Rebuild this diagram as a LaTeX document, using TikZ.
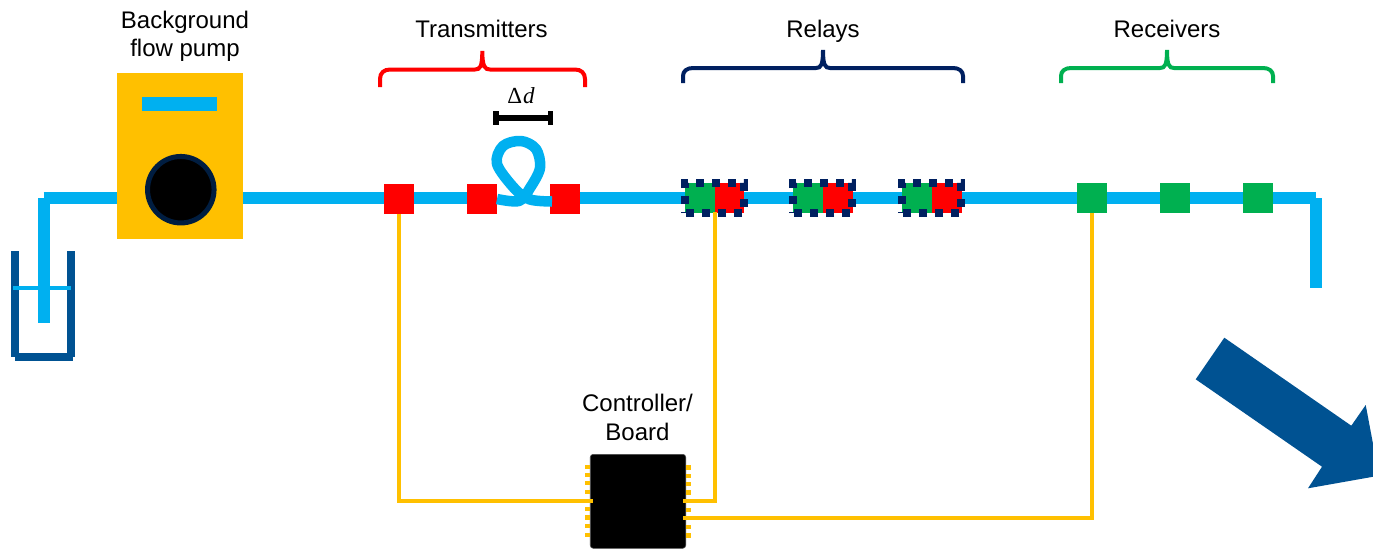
\documentclass[tikz,border=0pt]{standalone}
\usepackage{fontspec}
\setmainfont{Liberation Sans}
\newfontfamily\deltafont{Liberation Serif}
\usetikzlibrary{backgrounds}
\definecolor{pipeblue}{HTML}{00B0F0}
\definecolor{gold}{HTML}{FFC000}
\definecolor{deepblue}{HTML}{005292}
\definecolor{navy}{HTML}{002060}
\definecolor{ringnavy}{HTML}{001D40}
\definecolor{txred}{HTML}{FF0000}
\definecolor{rxgreen}{HTML}{00B050}
\tikzset{
  x=1pt,y=-1pt,
  pipe/.style={draw=pipeblue,line width=12pt},
  wire/.style={draw=gold,line width=4pt},
  sq/.style={inner sep=0pt,outer sep=0pt,minimum width=30pt,minimum height=30pt},
  txsq/.style={sq,fill=txred},
  rxsq/.style={sq,fill=rxgreen},
  relayhalf/.style={inner sep=0pt,outer sep=0pt,minimum width=30pt,minimum height=30pt},
  relaybox/.style={inner sep=0pt,outer sep=0pt,minimum width=59pt,minimum height=30pt},
  relaydash/.style={draw=navy,line width=8pt,dash pattern=on 8pt off 8pt,dash phase=7pt},
  label/.style={font=\fontsize{24}{28}\selectfont,align=center,inner sep=0pt,text=black},
  bracket/.style={line width=4pt,line cap=butt},
  pin/.style={fill=gold,inner sep=0pt,outer sep=0pt,minimum width=5.5pt,minimum height=4.4pt},
  beaker/.style={draw=deepblue,line width=8pt},
  dbar/.style={draw=black,line width=5.5pt},
}
\begin{document}
\begin{tikzpicture}
\useasboundingbox (0,0) rectangle (1373,549);
\clip (0,0) rectangle (1373,549);
\begin{pgfonlayer}{background}
\fill[white] (0,0) rectangle (1373,549);
\end{pgfonlayer}

% beaker
\coordinate (bwl1) at (15,251); \coordinate (bwl2) at (15,356.7);
\coordinate (bwr1) at (71,251); \coordinate (bwr2) at (71,356.7);
\coordinate (bb1) at (15,357.2); \coordinate (bb2) at (72.7,357.2);
\coordinate (wl1) at (13,288); \coordinate (wl2) at (71,288);
\draw[beaker] (bwl1) -- (bwl2);
\draw[beaker] (bwr1) -- (bwr2);
\draw[beaker] (bb1) -- (bb2);
\draw[draw=pipeblue,line width=4pt] (wl1) -- (wl2);

% nodes on the line
\node[fill=gold,inner sep=0pt,outer sep=0pt,minimum width=126pt,minimum height=166pt] (pump) at (180,156) {};
\node[fill=pipeblue,inner sep=0pt,minimum width=75pt,minimum height=14pt] (pumpbar) at (179.5,104) {};
\node[circle,fill=black,draw=ringnavy,line width=5pt,inner sep=0pt,outer sep=0pt,minimum size=66.5pt] (rotor) at (180.8,189.7) {};

\node[txsq] (t1) at (399,199) {};
\node[txsq] (t2) at (482,199) {};
\node[txsq] (t3) at (565,199) {};

\node[relayhalf,fill=rxgreen] (ga) at (700,198) {};
\node[relayhalf,fill=txred,minimum width=29pt] (ra) at (729.5,198) {};
\node[relayhalf,fill=rxgreen] (gb) at (808,198) {};
\node[relayhalf,fill=txred] (rb) at (838,198) {};
\node[relayhalf,fill=rxgreen] (gc) at (917,198) {};
\node[relayhalf,fill=txred] (rc) at (947,198) {};
\node[relaybox] (rla) at (714.5,198) {};
\node[relaybox] (rlb) at (822.5,198) {};
\node[relaybox] (rlc) at (931.5,198) {};
\foreach \b in {rla,rlb,rlc}
  \draw[relaydash] (\b.south west) -- (\b.north west) -- (\b.north east) -- (\b.south east) -- cycle;

\node[rxsq] (r1) at (1092,198) {};
\node[rxsq] (r2) at (1175,198) {};
\node[rxsq] (r3) at (1258,198) {};

% pipe
\coordinate (inc) at (43.5,198.3);
\coordinate (ine) at (43.5,323);
\coordinate (outc) at (1316,198.3);
\coordinate (oute) at (1316,287.7);
\begin{pgfonlayer}{background}
\draw[pipe] (inc) -- (ine);
\draw[pipe] (inc) -- (pump.west |- inc);
\draw[pipe] (pump.east |- inc) -- (t1.west |- inc);
\draw[pipe] (t1.east |- inc) -- (t2.west |- inc);
\draw[pipe] (t3.east |- inc) -- (ga.west |- inc);
\draw[pipe] (ra.east |- inc) -- (gb.west |- inc);
\draw[pipe] (rb.east |- inc) -- (gc.west |- inc);
\draw[pipe] (rc.east |- inc) -- (r1.west |- inc);
\draw[pipe] (r1.east |- inc) -- (r2.west |- inc);
\draw[pipe] (r2.east |- inc) -- (r3.west |- inc);
\draw[pipe] (r3.east |- inc) -- (outc);
\draw[pipe] (outc) -- (oute);
\end{pgfonlayer}

% coil between t2 and t3
\coordinate (la) at (552,201.5);
\coordinate (lb) at (497,199);
\draw[pipeblue,line width=10.5pt,line join=round] plot[smooth,tension=0.55] coordinates {
  (la) (530,199.5) (515,189) (497,164) (503,146) (521,141) (536,149) (540,168) (530,188) (519,201) (lb)};

% delta d
\coordinate (da) at (496,118); \coordinate (db) at (550.5,118);
\draw[dbar] (da) -- (db);
\draw[dbar] (da |- 0,111) -- (da |- 0,125);
\draw[dbar] (db |- 0,111) -- (db |- 0,125);
\node[inner sep=0pt,font=\deltafont\fontsize{23}{24}\selectfont] (dd) at (521,96) {Δ\kern1pt\textit{d}};

% board
\node[fill=black,draw=black!70,line width=0.6pt,rounded corners=3pt,inner sep=0pt,outer sep=0pt,minimum width=95.5pt,minimum height=94pt] (board) at (638,501.3) {};
\foreach \n/\y in {1/466.7,2/475,3/483,4/492,5/501,6/509,7/517.3,8/526,9/535}
  \node[pin] (pl\n) at (587.7,\y) {};
\foreach \n/\y in {1/467.5,2/476,3/484,4/492.5,5/501,6/510,7/518,8/527,9/535.5}
  \node[pin] (pr\n) at (688.3,\y) {};

% wires
\draw[wire] (t1.south) |- (pl5.east) -- ++(2.5,0);
\draw[wire] (rla.south) ++(0,-1) |- (pr5.west) -- ++(-2.5,0);
\draw[wire] (r1.south) |- (pr7.west) -- ++(-2.5,0);

% brackets
\draw[txred,bracket] (380,87) -- (380,79) .. controls (380,73) and (384,69.5) .. (390,69.5) -- (475,69.5) .. controls (480,69.5) and (482.3,67) .. (482.3,51)
  (482.3,51) .. controls (482.3,67) and (485,69.5) .. (490,69.5) -- (575,69.5) .. controls (581,69.5) and (585,73) .. (585,79) -- (585,87);
\draw[navy,bracket] (683,83) -- (683,76) .. controls (683,71) and (687,68) .. (693,68) -- (816,68) .. controls (821,68) and (823,65) .. (823,50)
  (823,50) .. controls (823,65) and (825,68) .. (830,68) -- (953,68) .. controls (959,68) and (963,71) .. (963,76) -- (963,83);
\draw[rxgreen,bracket] (1061,83) -- (1061,76) .. controls (1061,71) and (1065,68) .. (1071,68) -- (1160,68) .. controls (1165,68) and (1167,65) .. (1167,50)
  (1167,50) .. controls (1167,65) and (1169,68) .. (1174,68) -- (1263,68) .. controls (1269,68) and (1273,71) .. (1273,76) -- (1273,83);

% labels
\node[label] (pumplabel) at (185,36) {Background\\flow pump};
\node[label,anchor=base] (txlabel) at (481.5,37.5) {Transmitters};
\node[label,anchor=base] (rllabel) at (823,37.5) {Relays};
\node[label,anchor=base] (rxlabel) at (1167,37.5) {Receivers};
\node[label] (boardlabel) at (637.5,417.5) {Controller/\\[1pt]Board};

% big arrow
\fill[deepblue] (1224.3,337.7) -- (1351.3,425.7) -- (1365.7,405) -- (1379,475.7) -- (1308,488.3) -- (1322,466.7) -- (1195.7,379.3) -- cycle;
\end{tikzpicture}
\end{document}
